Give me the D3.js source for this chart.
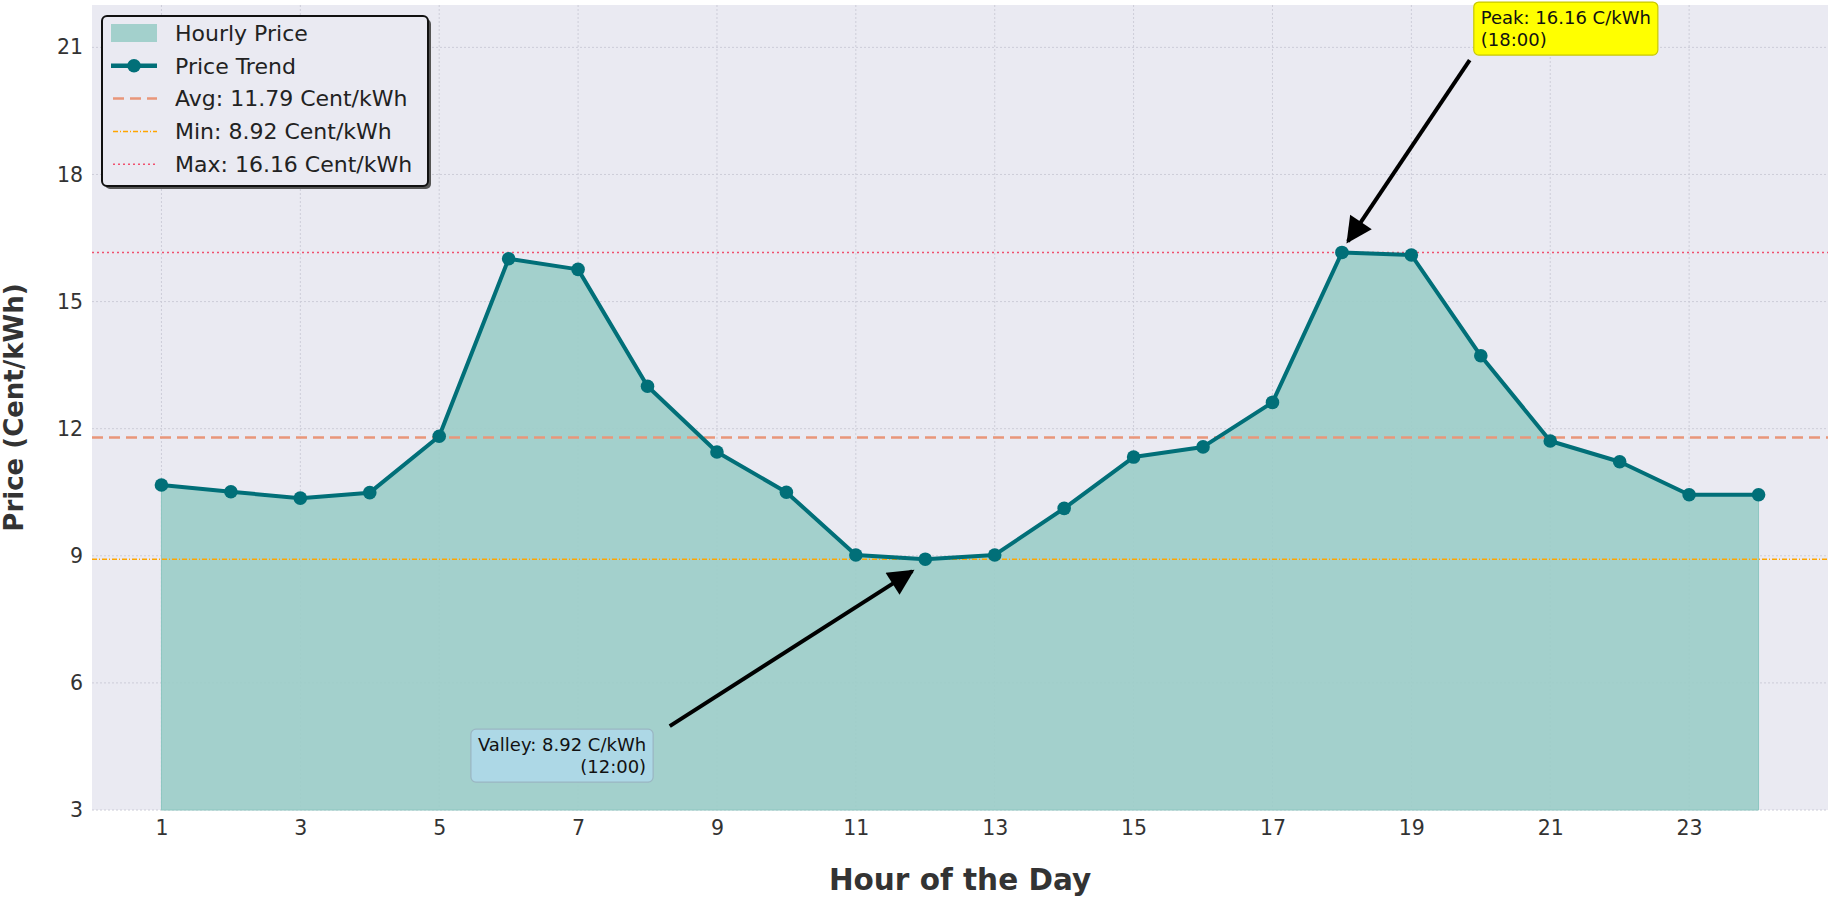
<!DOCTYPE html>
<meta charset="utf-8">
<style>
body { margin: 0; background: #fff; }
text { font-family: "DejaVu Sans", sans-serif; }
.tick text { font-size: 20.5px; fill: #333; }
.grid line { stroke: #cdcdd8; stroke-dasharray: 2,2; stroke-width: 1; }
</style>
<div id="chart"></div>
<script src="https://d3js.org/d3.v7.min.js"></script>
<script>

// hourly prices
var hours  = d3.range(1, 25);
var prices = [10.67, 10.51, 10.36, 10.49, 11.82, 16.01, 15.76, 13.00, 11.45, 10.50,
              9.02, 8.92, 9.02, 10.12, 11.33, 11.57, 12.62, 16.16, 16.10, 13.72,
              11.71, 11.22, 10.44, 10.44];
var xTicks = [1, 3, 5, 7, 9, 11, 13, 15, 17, 19, 21, 23];
var yTicks = [3, 6, 9, 12, 15, 18, 21];

var data = hours.map(function (h, i) { return {hour: h, price: prices[i]}; });

var W = 1828, H = 897;
var margin = {top: 5, right: 0, bottom: 87, left: 92};
var width = W - margin.left - margin.right,
    height = H - margin.top - margin.bottom;

var svg = d3.select("#chart").append("svg")
    .attr("width", W).attr("height", H);

var g = svg.append("g")
    .attr("transform", "translate(" + margin.left + "," + margin.top + ")");

var x = d3.scaleLinear().domain([0, 25]).range([0, width]);
var y = d3.scaleLinear().domain([3, 22]).range([height, 0]);

// plot background
g.append("rect").attr("width", width).attr("height", height).attr("fill", "#eaeaf2");

// grid
g.append("g").attr("class", "grid")
  .selectAll("line").data(xTicks).enter().append("line")
    .attr("x1", function (d) { return x(d); }).attr("x2", function (d) { return x(d); })
    .attr("y1", 0).attr("y2", height);
g.append("g").attr("class", "grid")
  .selectAll("line").data(yTicks).enter().append("line")
    .attr("y1", function (d) { return y(d); }).attr("y2", function (d) { return y(d); })
    .attr("x1", 0).attr("x2", width);

// axes (labels only)
var xAxis = g.append("g")
    .attr("transform", "translate(0," + height + ")")
    .call(d3.axisBottom(x).tickValues(xTicks).tickSize(0).tickPadding(10));
var yAxis = g.append("g")
    .call(d3.axisLeft(y).tickValues(yTicks).tickSize(0).tickPadding(9));
xAxis.select(".domain").remove();
yAxis.select(".domain").remove();

// area
var area = d3.area()
    .x(function (d) { return x(d.hour); })
    .y0(y(3))
    .y1(function (d) { return y(d.price); });
g.append("path").datum(data)
    .attr("d", area)
    .attr("fill", "rgb(155,205,200)")
    .attr("fill-opacity", 0.9)
    .attr("stroke", "#8cc6c0")
    .attr("stroke-width", 1);

// reference lines
var avg = d3.mean(prices), minP = d3.min(prices), maxP = d3.max(prices);
var refs = [
  {v: avg,  color: "#e9967a", dash: "11,6",    w: 2.5},
  {v: minP, color: "#ffa500", dash: "5,2,1,2", w: 1.5},
  {v: maxP, color: "#f0506e", dash: "2,3",     w: 1.5}
];
g.append("g").selectAll("line").data(refs).enter().append("line")
    .attr("x1", 0).attr("x2", width)
    .attr("y1", function (d) { return y(d.v); }).attr("y2", function (d) { return y(d.v); })
    .attr("stroke", function (d) { return d.color; })
    .attr("stroke-dasharray", function (d) { return d.dash; })
    .attr("stroke-width", function (d) { return d.w; });

// trend line + markers
var teal = "#016f78";
var line = d3.line()
    .x(function (d) { return x(d.hour); })
    .y(function (d) { return y(d.price); });
g.append("path").datum(data)
    .attr("d", line)
    .attr("fill", "none")
    .attr("stroke", teal)
    .attr("stroke-width", 4)
    .attr("stroke-linejoin", "round");
g.append("g").selectAll("circle").data(data).enter().append("circle")
    .attr("cx", function (d) { return x(d.hour); })
    .attr("cy", function (d) { return y(d.price); })
    .attr("r", 6.8)
    .attr("fill", teal);

// arrows
svg.append("defs").append("marker")
    .attr("id", "head")
    .attr("viewBox", "0 0 10 10")
    .attr("refX", 9).attr("refY", 5)
    .attr("markerWidth", 7).attr("markerHeight", 6.5)
    .attr("markerUnits", "strokeWidth")
    .attr("orient", "auto")
  .append("path").attr("d", "M0,0 L10,5 L0,10 Z").attr("fill", "#000");

var peak = data[prices.indexOf(maxP)];
var valley = data[prices.indexOf(minP)];

function arrow(fromHour, fromPrice, to, dx, dy) {
  g.append("line")
    .attr("x1", x(fromHour)).attr("y1", y(fromPrice))
    .attr("x2", x(to.hour) + dx).attr("y2", y(to.price) + dy)
    .attr("stroke", "#000").attr("stroke-width", 4)
    .attr("marker-end", "url(#head)");
}
arrow(19.84, 20.70, peak, 6, -11);
arrow(8.32, 4.98, valley, -13, 12);

// annotation boxes
function note(lines, hx, py, anchor, fill, stroke) {
  var t = g.append("g");
  var tx = x(hx), ty = y(py);
  var txt = t.append("text")
      .attr("x", tx).attr("y", ty)
      .attr("text-anchor", anchor)
      .attr("font-size", 18).attr("fill", "#111");
  lines.forEach(function (s, i) {
    txt.append("tspan").attr("x", tx).attr("dy", i ? 22 : 0).text(s);
  });
  var bb = txt.node().getBBox();
  t.insert("rect", "text")
    .attr("x", bb.x - 7).attr("y", bb.y - 5)
    .attr("width", bb.width + 14).attr("height", bb.height + 10)
    .attr("rx", 5)
    .attr("fill", fill).attr("stroke", stroke).attr("stroke-width", 1.2);
}
note(["Peak: " + maxP.toFixed(2) + " C/kWh", "(" + peak.hour + ":00)"],
     20.0, 21.55, "start", "#ffff00", "#c8c800");
note(["Valley: " + minP.toFixed(2) + " C/kWh", "(" + valley.hour + ":00)"],
     7.98, 4.39, "end", "#add8e6", "#9ab5c2");

// legend
var legendItems = [
  {label: "Hourly Price", type: "patch"},
  {label: "Price Trend", type: "trend"},
  {label: "Avg: " + avg.toFixed(2) + " Cent/kWh", type: "ref", ref: refs[0]},
  {label: "Min: " + minP.toFixed(2) + " Cent/kWh", type: "ref", ref: refs[1]},
  {label: "Max: " + maxP.toFixed(2) + " Cent/kWh", type: "ref", ref: refs[2]}
];
var lg = svg.append("g").attr("transform", "translate(102,16)");
lg.append("rect").attr("x", 3).attr("y", 3).attr("width", 326).attr("height", 170)
    .attr("rx", 5).attr("fill", "#555");
lg.append("rect").attr("width", 326).attr("height", 170)
    .attr("rx", 5).attr("fill", "#eaeaf2").attr("stroke", "#111").attr("stroke-width", 2);
var items = lg.selectAll(".item").data(legendItems).enter().append("g")
    .attr("transform", function (d, i) { return "translate(0," + (17 + i * 32.8) + ")"; });
items.each(function (d) {
  var s = d3.select(this);
  if (d.type === "patch") {
    s.append("rect").attr("x", 9).attr("y", -9).attr("width", 46).attr("height", 18)
      .attr("fill", "rgb(155,205,200)").attr("fill-opacity", 0.9);
  } else if (d.type === "trend") {
    s.append("line").attr("x1", 9).attr("x2", 55).attr("stroke", teal).attr("stroke-width", 4.5);
    s.append("circle").attr("cx", 32).attr("r", 6.8).attr("fill", teal);
  } else {
    s.append("line").attr("x1", 11).attr("x2", 55)
      .attr("stroke", d.ref.color).attr("stroke-width", d.ref.w)
      .attr("stroke-dasharray", d.ref.dash);
  }
  s.append("text").attr("x", 73).attr("dy", "0.35em")
    .attr("font-size", 22).attr("fill", "#222").text(d.label);
});

// axis titles
svg.append("text")
    .attr("x", margin.left + width / 2).attr("y", 890)
    .attr("text-anchor", "middle")
    .attr("font-size", 29.5).attr("font-weight", "bold").attr("fill", "#333")
    .text("Hour of the Day");
svg.append("text")
    .attr("transform", "translate(23," + (margin.top + height / 2) + ") rotate(-90)")
    .attr("text-anchor", "middle")
    .attr("font-size", 26).attr("font-weight", "bold").attr("fill", "#333")
    .text("Price (Cent/kWh)");

</script>
